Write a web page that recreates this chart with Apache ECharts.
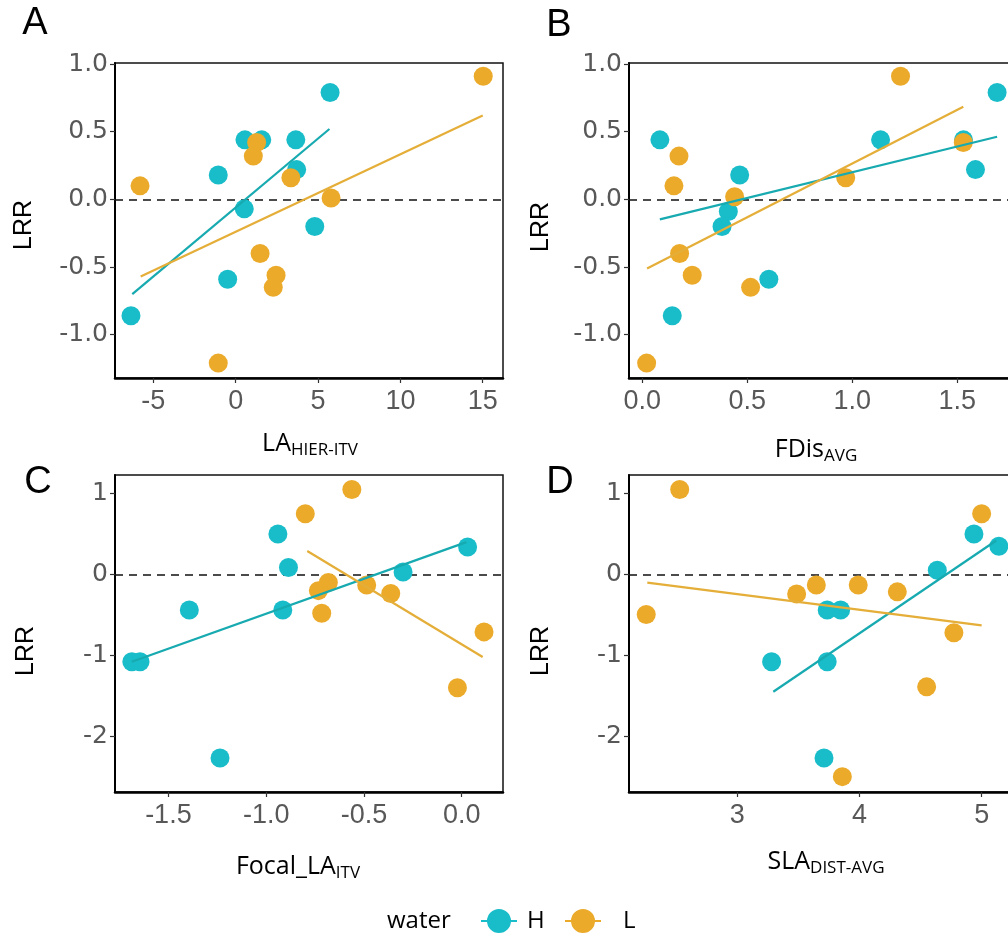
<!DOCTYPE html>
<html><head><meta charset="utf-8">
<script src="https://cdn.jsdelivr.net/npm/echarts@6/dist/echarts.min.js"></script>
<style>html,body{margin:0;padding:0;background:#fff}#c{width:1008px;height:946px}</style>
</head><body><div id="c"></div>
<script>
// ---------- data ----------
const seriesNames = ['H', 'L'];
// Panel A : LRR vs LA_HIER-ITV
const aH = [[5.73,0.79],[0.56,0.44],[1.58,0.44],[3.65,0.44],[3.7,0.22],[-1.06,0.18],[0.52,-0.07],[4.8,-0.20],[-0.49,-0.59],[-6.36,-0.86]];
const aL = [[15.03,0.91],[-5.81,0.10],[1.27,0.42],[1.07,0.32],[3.35,0.16],[5.79,0.01],[1.48,-0.40],[2.45,-0.56],[2.28,-0.65],[-1.06,-1.21]];
const aHfit = [[-6.28,-0.70],[5.69,0.52]];
const aLfit = [[-5.77,-0.57],[15.0,0.62]];
// Panel B : LRR vs FDis_AVG
const bH = [[0.084,0.44],[1.69,0.79],[1.135,0.44],[1.53,0.44],[1.587,0.22],[0.464,0.18],[0.41,-0.09],[0.38,-0.20],[0.603,-0.59],[0.143,-0.86]];
const bL = [[1.23,0.91],[1.529,0.42],[0.175,0.32],[0.151,0.10],[0.969,0.16],[0.44,0.02],[0.178,-0.40],[0.238,-0.56],[0.516,-0.65],[0.021,-1.21]];
const bHfit = [[0.084,-0.148],[1.69,0.463]];
const bLfit = [[0.023,-0.51],[1.529,0.685]];
// Panel C : LRR vs Focal_LA_ITV
const cH = [[0.03,0.34],[-0.94,0.50],[-0.886,0.087],[-0.30,0.03],[-1.393,-0.44],[-0.915,-0.44],[-1.687,-1.08],[-1.645,-1.08],[-1.236,-2.27]];
const cL = [[-0.562,1.05],[-0.80,0.75],[-0.682,-0.10],[-0.733,-0.20],[-0.716,-0.48],[-0.486,-0.13],[-0.363,-0.235],[0.114,-0.71],[-0.022,-1.40]];
const cHfit = [[-1.687,-1.08],[0.024,0.40]];
const cLfit = [[-0.79,0.29],[0.107,-1.02]];
// Panel D : LRR vs SLA_DIST-AVG
const dH = [[4.937,0.50],[5.141,0.35],[4.637,0.053],[3.736,-0.44],[3.846,-0.44],[3.281,-1.08],[3.736,-1.08],[3.71,-2.27]];
const dL = [[2.529,1.05],[5.0,0.75],[3.647,-0.13],[3.99,-0.13],[3.486,-0.24],[4.31,-0.215],[2.255,-0.495],[4.773,-0.72],[4.55,-1.39],[3.86,-2.50]];
const dHfit = [[3.295,-1.45],[5.12,0.42]];
const dLfit = [[2.264,-0.10],[5.0,-0.63]];
// tick values
const ticksAx = [-5, 0, 5, 10, 15];
const ticksBx = [0, 0.5, 1.0, 1.5];
const ticksCx = [-1.5, -1.0, -0.5, 0.0];
const ticksDx = [3, 4, 5];
const ticksABy = [-1.0, -0.5, 0.0, 0.5, 1.0];
const ticksCDy = [-2, -1, 0, 1];
// axis ranges
const rangeAx = [-7.33, 16.23], rangeBx = [-0.063, 1.799], rangeCx = [-1.773, 0.211], rangeDx = [2.114, 5.314];
const rangeABy = [-1.32, 1.008], rangeCDy = [-2.69, 1.23];
// labels
const panelLetters = ['A', 'B', 'C', 'D'];
const xTitles = [['LA', 'HIER-ITV'], ['FDis', 'AVG'], ['Focal_LA', 'ITV'], ['SLA', 'DIST-AVG']];
const yTitle = 'LRR';
const legendTitle = 'water';

// ---------- style ----------
const TEAL = '#19BDC9', ORANGE = '#EBAA2A';
const TEAL_LINE = '#17AAB0', ORANGE_LINE = '#E4AE38';
const TICK_COL = '#585858';
const SANS = 'Liberation Sans, Arial, sans-serif';
const WIDE = 'DejaVu Sans, sans-serif';
const LBL = 'Open Sans, Noto Sans, sans-serif';

const grids = [
  {left: 115, top: 63, width: 388, height: 315},
  {left: 629, top: 63, width: 391, height: 315},
  {left: 115, top: 475, width: 388, height: 317},
  {left: 629, top: 475, width: 391, height: 317}
].map(g => Object.assign({show: true, borderColor: '#111', borderWidth: 1.5, backgroundColor: 'transparent', outerBoundsMode: 'none', containLabel: false}, g));

function fmt1(v) { return Number(v).toFixed(1); }
function fmt0(v) { return String(v); }

function mkX(gi, range, ticks, f) {
  return {
    type: 'value', gridIndex: gi, min: range[0], max: range[1],
    axisLine: {show: true, onZero: false, lineStyle: {color: '#000', width: 2.5}},
    axisTick: {show: true, length: 5, customValues: ticks, lineStyle: {color: '#333', width: 1.2}},
    axisLabel: {show: true, customValues: ticks, formatter: f, margin: 10, color: TICK_COL, fontSize: 27, fontFamily: SANS},
    splitLine: {show: false}
  };
}
function mkY(gi, range, ticks, f) {
  return {
    type: 'value', gridIndex: gi, min: range[0], max: range[1],
    axisLine: {show: true, onZero: false, lineStyle: {color: '#000', width: 2}},
    axisTick: {show: true, length: 5, customValues: ticks, lineStyle: {color: '#333', width: 1.2}},
    axisLabel: {show: true, customValues: ticks, formatter: f, margin: 7, color: TICK_COL, fontSize: 25, fontFamily: WIDE},
    splitLine: {show: false}
  };
}

const xAxes = [mkX(0, rangeAx, ticksAx, fmt0), mkX(1, rangeBx, ticksBx, fmt1), mkX(2, rangeCx, ticksCx, fmt1), mkX(3, rangeDx, ticksDx, fmt0)];
const yAxes = [mkY(0, rangeABy, ticksABy, fmt1), mkY(1, rangeABy, ticksABy, fmt1), mkY(2, rangeCDy, ticksCDy, fmt0), mkY(3, rangeCDy, ticksCDy, fmt0)];

const panels = [[aH, aL, aHfit, aLfit], [bH, bL, bHfit, bLfit], [cH, cL, cHfit, cLfit], [dH, dL, dHfit, dLfit]];
const series = [];
panels.forEach((p, i) => {
  series.push({
    type: 'scatter', name: seriesNames[0], xAxisIndex: i, yAxisIndex: i, data: p[0], symbolSize: 19, clip: false, z: 2,
    itemStyle: {color: TEAL, opacity: 1},
    markLine: {silent: true, z: 1, symbol: ['none', 'none'], label: {show: false},
      lineStyle: {color: '#111', type: [8, 6], width: 1.6}, data: [{yAxis: 0}], animation: false}
  });
  series.push({type: 'scatter', name: seriesNames[1], xAxisIndex: i, yAxisIndex: i, data: p[1], symbolSize: 19, clip: false, z: 3,
    itemStyle: {color: ORANGE, opacity: 1}});
  series.push({type: 'line', name: seriesNames[0], xAxisIndex: i, yAxisIndex: i, data: p[2], showSymbol: false, symbol: 'none', z: 4,
    lineStyle: {color: TEAL_LINE, width: 2.2}, itemStyle: {color: TEAL}});
  series.push({type: 'line', name: seriesNames[1], xAxisIndex: i, yAxisIndex: i, data: p[3], showSymbol: false, symbol: 'none', z: 4,
    lineStyle: {color: ORANGE_LINE, width: 2.2}, itemStyle: {color: ORANGE}});
});

const graphics = [];
const letterPos = [[35, 24], [559, 26], [38, 483], [560, 483]];
panelLetters.forEach((t, i) => graphics.push({type: 'text', x: letterPos[i][0], y: letterPos[i][1],
  style: {text: t, font: '38px ' + SANS, fill: '#000', align: 'center', verticalAlign: 'middle'}}));
const lrrPos = [[24, 225], [541, 227], [26, 651], [541, 651]];
lrrPos.forEach(p => graphics.push({type: 'text', x: p[0], y: p[1], rotation: Math.PI / 2,
  style: {text: yTitle, font: '25px ' + SANS, fill: '#000', align: 'center', verticalAlign: 'middle'}}));
const xtPos = [[310, 444], [816, 450], [298, 867], [826, 862]];
xTitles.forEach((t, i) => graphics.push({type: 'text', x: xtPos[i][0], y: xtPos[i][1],
  style: {text: '{m|' + t[0] + '}{s|' + t[1] + '}', align: 'center', verticalAlign: 'middle',
    rich: {m: {fontSize: 25, fontFamily: LBL, fill: '#000', lineHeight: 30},
           s: {fontSize: 17, fontFamily: LBL, fill: '#000', lineHeight: 16, verticalAlign: 'bottom'}}}}));
graphics.push({type: 'text', x: 387, y: 921, style: {text: legendTitle, font: '24px ' + LBL, fill: '#000', align: 'left', verticalAlign: 'middle'}});

const ICON = 'path://M0,12L36,12L36,14L0,14Z M6,13A12,12 0 1,1 30,13A12,12 0 1,1 6,13Z';
function mkLegend(name, left, pad) {
  return {show: true, data: [name], left: left, top: 909, padding: 0, itemWidth: 36, itemHeight: 24, icon: ICON,
    selectedMode: false, textStyle: {fontSize: 24, fontFamily: LBL, color: '#000', padding: [0, 0, 0, pad]}};
}

const chart = echarts.init(document.getElementById('c'), null, {renderer: 'canvas'});
chart.setOption({
  animation: false,
  backgroundColor: '#fff',
  grid: grids,
  xAxis: xAxes,
  yAxis: yAxes,
  legend: [mkLegend('H', 481, 5), mkLegend('L', 565, 17)],
  graphic: graphics,
  series: series
});
</script></body></html>
